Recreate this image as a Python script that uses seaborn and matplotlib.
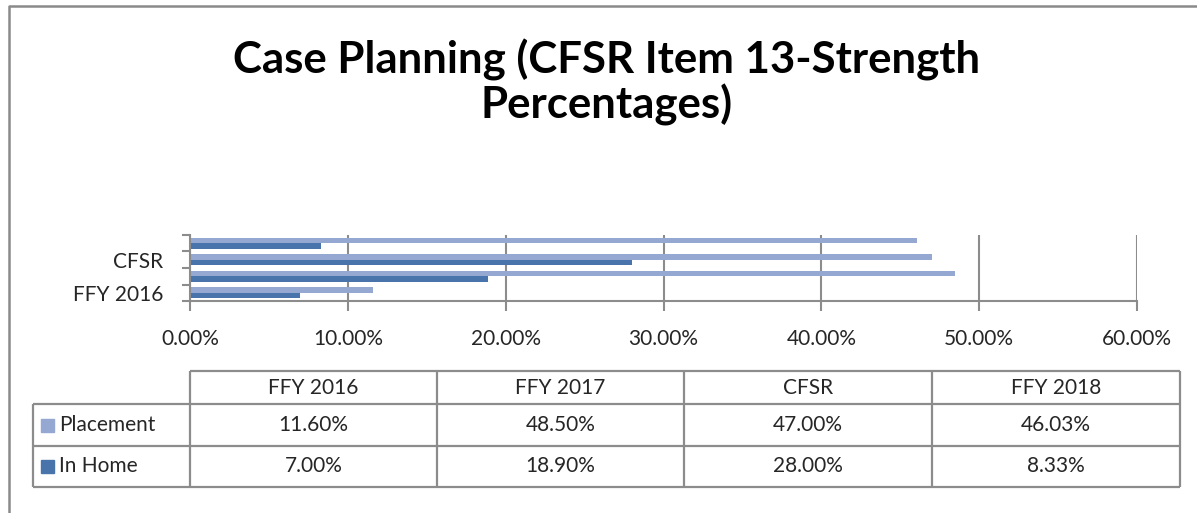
import pandas as pd
import seaborn as sns
import matplotlib.pyplot as plt
from matplotlib.patches import Rectangle
from matplotlib.lines import Line2D

categories = ["FFY 2016", "FFY 2017", "CFSR", "FFY 2018"]
placement = [11.60, 48.50, 47.00, 46.03]
in_home = [7.00, 18.90, 28.00, 8.33]
series_names = ["Placement", "In Home"]
x_ticks = [0, 10, 20, 30, 40, 50, 60]

colors = {"Placement": "#95A8D1", "In Home": "#4874AB"}
grid_col = "#8C8C8C"
font = "Lato"
fs = 15

W, H = 1197, 513


def fx(px):
    return px / W


def fy(py):
    return 1 - py / H


def main():
    rows = []
    for c, p, h in zip(categories, placement, in_home):
        rows.append({"Category": c, "Series": "Placement", "Value": p})
        rows.append({"Category": c, "Series": "In Home", "Value": h})
    df = pd.DataFrame(rows)

    sns.set_theme(style="white")
    plt.rcParams["font.family"] = [font, "DejaVu Sans"]

    fig = plt.figure(figsize=(W / 100, H / 100), dpi=100)
    fig.patch.set_facecolor("white")

    # outer chart border (only top and left edges are inside the picture)
    fig.add_artist(Line2D([fx(9), fx(9), 1], [0, fy(6), fy(6)],
                          transform=fig.transFigure, color="#8A8A8A", linewidth=1.8))

    fig.text(fx(607), fy(60), "Case Planning (CFSR Item 13-Strength", ha="center",
             va="center", fontsize=31.5, fontweight="bold", color="black")
    fig.text(fx(607), fy(105), "Percentages)", ha="center", va="center",
             fontsize=31.5, fontweight="bold", color="black")

    # bar chart
    ax = fig.add_axes([fx(190), fy(301), fx(1137) - fx(190), fy(235) - fy(301)])
    order = categories[::-1]
    sns.barplot(data=df, y="Category", x="Value", hue="Series", order=order,
                hue_order=series_names, palette=colors, orient="h", width=0.66,
                ax=ax, legend=False, saturation=1)
    ax.set_xlim(0, 60)
    ax.set_ylim(len(categories) - 0.5, -0.5)
    ax.set_xticks(x_ticks)
    ax.set_xticklabels([f"{t:.2f}%" for t in x_ticks], fontsize=fs)
    ax.set_yticks(range(len(order)))
    ax.set_yticklabels([c if i % 2 == 1 else "" for i, c in enumerate(order)],
                       fontsize=fs)
    ax.set_yticks([i - 0.5 for i in range(len(order) + 1)], minor=True)
    ax.tick_params(axis="y", which="major", length=0, pad=19)
    ax.tick_params(axis="y", which="minor", length=6, width=1.5, color=grid_col,
                   direction="out", left=True)
    ax.tick_params(axis="x", length=7, width=1.5, color=grid_col, direction="out",
                   pad=13, bottom=True)
    ax.set_xlabel("")
    ax.set_ylabel("")
    ax.grid(axis="x", color=grid_col, linewidth=1.5)
    ax.set_axisbelow(True)
    for s in ["top", "right"]:
        ax.spines[s].set_visible(False)
    for s in ["left", "bottom"]:
        ax.spines[s].set_color(grid_col)
        ax.spines[s].set_linewidth(1.5)
    for bar in ax.patches:
        bar.set_edgecolor("none")

    # data table
    tax = fig.add_axes([0, 0, 1, 1])
    tax.set_xlim(0, W)
    tax.set_ylim(H, 0)
    tax.axis("off")
    col_edges = [33, 190, 437, 684, 932, 1180]
    row_edges = [371, 404, 446, 487]
    lk = dict(color=grid_col, linewidth=1.6)
    tax.hlines(row_edges[0], col_edges[1], col_edges[-1], **lk)
    for y in row_edges[1:]:
        tax.hlines(y, col_edges[0], col_edges[-1], **lk)
    tax.vlines(col_edges[0], row_edges[1], row_edges[-1], **lk)
    for x in col_edges[1:]:
        tax.vlines(x, row_edges[0], row_edges[-1], **lk)

    for i, c in enumerate(categories):
        xc = (col_edges[i + 1] + col_edges[i + 2]) / 2
        tax.text(xc, (row_edges[0] + row_edges[1]) / 2, c, ha="center",
                 va="center", fontsize=fs)
    for r, (name, vals) in enumerate(zip(series_names, [placement, in_home])):
        yc = (row_edges[r + 1] + row_edges[r + 2]) / 2
        tax.add_patch(Rectangle((41, yc - 6.5), 13, 13, color=colors[name]))
        tax.text(59, yc, name, ha="left", va="center", fontsize=fs)
        for i, v in enumerate(vals):
            xc = (col_edges[i + 1] + col_edges[i + 2]) / 2
            tax.text(xc, yc, f"{v:.2f}%", ha="center", va="center", fontsize=fs)

    fig.savefig("out.png", dpi=100, facecolor="white")
    plt.close(fig)


if __name__ == "__main__":
    main()
